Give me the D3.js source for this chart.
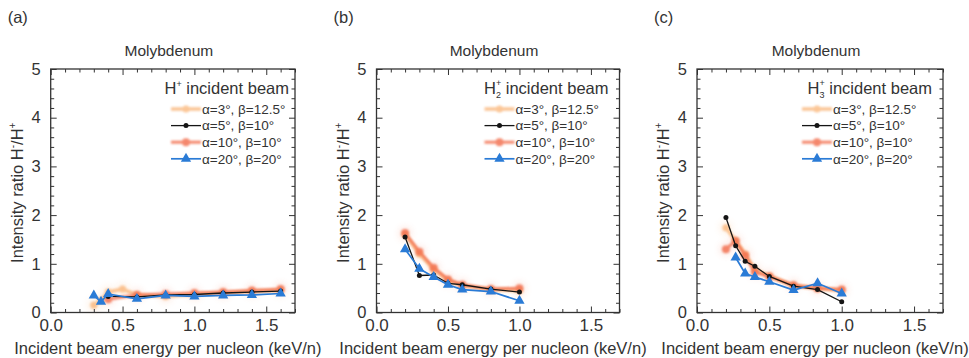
<!DOCTYPE html>
<html>
<head>
<meta charset="utf-8">
<script src="https://cdn.jsdelivr.net/npm/d3@7"></script>
<style>
  html, body { margin: 0; padding: 0; background: #ffffff; }
  svg { display: block; }
  text { font-family: "Liberation Sans", Arial, Helvetica, sans-serif; fill: #333; }
</style>
</head>
<body>
<svg id="chart" width="969" height="358"></svg>
<script>
// ---------------- DATA ----------------
const panelLabels = ["(a)", "(b)", "(c)"];
const panelTitle = "Molybdenum";
const beamSubscripts = ["", "2", "3"];
const seriesLabels = ["α=3°, β=12.5°", "α=5°, β=10°", "α=10°, β=10°", "α=20°, β=20°"];
const xTickValues = [0.0, 0.5, 1.0, 1.5];
const yTickValues = [0, 1, 2, 3, 4, 5];
const xAxisTitle = "Incident beam energy per nucleon (keV/n)";

// Panel (a): H+ incident beam
const aX1 = [0.3, 0.35, 0.4, 0.5, 0.6, 0.8, 1.0, 1.2, 1.4, 1.6];
const aY1 = [0.15, 0.25, 0.42, 0.48, 0.36, 0.33, 0.37, 0.40, 0.43, 0.45];
const aX2 = [0.4, 0.6, 0.8, 1.0, 1.2, 1.4, 1.6];
const aY2 = [0.33, 0.32, 0.36, 0.37, 0.40, 0.42, 0.44];
const aX3 = [0.4, 0.6, 0.8, 1.0, 1.2, 1.4, 1.6];
const aY3 = [0.27, 0.36, 0.38, 0.40, 0.42, 0.45, 0.48];
const aX4 = [0.3, 0.35, 0.4, 0.6, 0.8, 1.0, 1.2, 1.4, 1.6];
const aY4 = [0.35, 0.22, 0.38, 0.28, 0.35, 0.33, 0.35, 0.36, 0.39];

// Panel (b): H2+ incident beam
const bX = [0.2, 0.3, 0.4, 0.5, 0.6, 0.8, 1.0];
const bY1 = [1.60, 1.20, 0.88, 0.66, 0.55, 0.47, 0.45];
const bY2 = [1.55, 0.76, 0.77, 0.60, 0.57, 0.48, 0.42];
const bY3 = [1.63, 1.25, 0.92, 0.68, 0.57, 0.48, 0.50];
const bY4 = [1.30, 0.90, 0.73, 0.57, 0.47, 0.43, 0.24];

// Panel (c): H3+ incident beam
const cX = [0.2, 0.267, 0.333, 0.4, 0.5, 0.667, 0.833, 1.0];
const cY1 = [1.74, 1.47, 1.20, 0.88, 0.75, 0.55, 0.50, 0.45];
const cY2 = [1.95, 1.37, 1.05, 0.95, 0.74, 0.54, 0.47, 0.22];
const cY3 = [1.30, 1.47, 1.17, 0.83, 0.74, 0.56, 0.50, 0.47];
const cX4 = [0.267, 0.333, 0.4, 0.5, 0.667, 0.833, 1.0];
const cY4 = [1.13, 0.80, 0.73, 0.63, 0.46, 0.60, 0.39];

// ---------------- STYLE / LAYOUT ----------------
const seriesStyle = [
  { color: "#f9a860", width: 3.6, opacity: 0.65, marker: "circle", r: 3.6, blur: true },
  { color: "#151515", width: 1.3, opacity: 1.0, marker: "circle", r: 2.5, blur: false },
  { color: "#f26a48", width: 3.0, opacity: 0.8, marker: "circle", r: 4.0, blur: true },
  { color: "#2a7bd6", width: 1.7, opacity: 1.0, marker: "triangle", r: 4.2, blur: false }
];
const drawOrder = [0, 2, 1, 3];

const panels = [
  { left: 50.7, right: 295, legendRight: 6, legendText: 93,
    data: [[aX1, aY1], [aX2, aY2], [aX3, aY3], [aX4, aY4]] },
  { left: 376.5, right: 619.5, legendRight: 11, legendText: 104,
    data: [[bX, bY1], [bX, bY2], [bX, bY3], [bX, bY4]] },
  { left: 697, right: 943, legendRight: 11, legendText: 110,
    data: [[cX, cY1], [cX, cY2], [cX, cY3], [cX4, cY4]] }
];
const plotTop = 69, plotBottom = 312.5;
const axisColor = "#333";

const svg = d3.select("#chart");
const defs = svg.append("defs");
defs.append("filter").attr("id", "soft").attr("x", "-20%").attr("y", "-20%")
  .attr("width", "140%").attr("height", "140%")
  .append("feGaussianBlur").attr("stdDeviation", 0.8);
defs.append("filter").attr("id", "halo").attr("x", "-100%").attr("y", "-100%")
  .attr("width", "300%").attr("height", "300%")
  .append("feGaussianBlur").attr("stdDeviation", 3);

function range(a, b, step) {
  const out = [];
  for (let v = a; v <= b + 1e-9; v += step) out.push(Math.round(v * 100) / 100);
  return out;
}
const xMinor = range(0, 1.7, 0.1).filter(v => !xTickValues.some(t => Math.abs(t - v) < 1e-6));
const yMinor = range(0, 5, 0.2).filter(v => !yTickValues.some(t => Math.abs(t - v) < 1e-6));

function styleAxis(g) {
  g.select(".domain").remove();
  g.selectAll(".tick line").attr("stroke", axisColor).attr("stroke-width", 1);
}

function drawMarker(sel, st, cx, cy) {
  if (st.marker === "triangle") {
    sel.append("path").attr("d", d3.symbol(d3.symbolTriangle, st.r * st.r * 2.6)())
      .attr("transform", `translate(${cx},${cy})`).attr("fill", st.color);
  } else {
    sel.append("circle").attr("cx", cx).attr("cy", cy).attr("r", st.r).attr("fill", st.color);
  }
}

panels.forEach((p, pi) => {
  const x = d3.scaleLinear().domain([0, 1.7]).range([p.left, p.right]);
  const y = d3.scaleLinear().domain([0, 5]).range([plotBottom, plotTop]);
  const g = svg.append("g");
  const cxMid = (p.left + p.right) / 2;

  // panel label
  g.append("text").attr("x", p.left - 43).attr("y", 23).attr("font-size", 16.5).text(panelLabels[pi]);
  // title
  g.append("text").attr("x", cxMid - 4).attr("y", 56).attr("text-anchor", "middle")
    .attr("font-size", 15.5).text(panelTitle);

  // halos (faint glow around soft series points)
  const halo = g.append("g").attr("filter", "url(#halo)").attr("opacity", 0.12);
  [0, 2].forEach(si => {
    const [xs, ys] = p.data[si];
    xs.forEach((xv, i) => {
      halo.append("circle").attr("cx", x(xv)).attr("cy", y(ys[i])).attr("r", 7)
        .attr("fill", seriesStyle[si].color);
    });
  });

  // series
  const line = d3.line().x(d => x(d[0])).y(d => y(d[1]));
  drawOrder.forEach(si => {
    const st = seriesStyle[si];
    const [xs, ys] = p.data[si];
    const pts = xs.map((xv, i) => [xv, ys[i]]);
    const sg = g.append("g").attr("opacity", st.opacity);
    if (st.blur) sg.attr("filter", "url(#soft)");
    sg.append("path").attr("d", line(pts)).attr("fill", "none")
      .attr("stroke", st.color).attr("stroke-width", st.width).attr("stroke-linejoin", "round");
    pts.forEach(d => drawMarker(sg, st, x(d[0]), y(d[1])));
  });

  // axes (ticks inward, mirrored)
  const majLen = 6, minLen = 3.5;
  g.append("g").attr("transform", `translate(0,${plotBottom})`)
    .call(d3.axisBottom(x).tickValues(xMinor).tickSize(-minLen).tickFormat("")).call(styleAxis);
  g.append("g").attr("transform", `translate(0,${plotBottom})`)
    .call(d3.axisBottom(x).tickValues(xTickValues).tickSize(-majLen).tickPadding(6)
      .tickFormat(d3.format(".1f")))
    .call(styleAxis)
    .call(a => a.selectAll(".tick text").attr("font-size", 17).attr("fill", "#333")
      .attr("font-family", "Liberation Sans, Arial, sans-serif"));
  g.append("g").attr("transform", `translate(0,${plotTop})`)
    .call(d3.axisTop(x).tickValues(xMinor).tickSize(-minLen).tickFormat("")).call(styleAxis);
  g.append("g").attr("transform", `translate(0,${plotTop})`)
    .call(d3.axisTop(x).tickValues(xTickValues).tickSize(-majLen).tickFormat("")).call(styleAxis);
  g.append("g").attr("transform", `translate(${p.left},0)`)
    .call(d3.axisLeft(y).tickValues(yMinor).tickSize(-minLen).tickFormat("")).call(styleAxis);
  g.append("g").attr("transform", `translate(${p.left},0)`)
    .call(d3.axisLeft(y).tickValues(yTickValues).tickSize(-majLen).tickPadding(10).tickFormat(d3.format("d")))
    .call(styleAxis)
    .call(a => a.selectAll(".tick text").attr("font-size", 16.5).attr("fill", "#333")
      .attr("font-family", "Liberation Sans, Arial, sans-serif"));
  g.append("g").attr("transform", `translate(${p.right},0)`)
    .call(d3.axisRight(y).tickValues(yMinor).tickSize(-minLen).tickFormat("")).call(styleAxis);
  g.append("g").attr("transform", `translate(${p.right},0)`)
    .call(d3.axisRight(y).tickValues(yTickValues).tickSize(-majLen).tickFormat("")).call(styleAxis);

  // frame
  g.append("rect").attr("x", p.left).attr("y", plotTop).attr("width", p.right - p.left)
    .attr("height", plotBottom - plotTop).attr("fill", "none").attr("stroke", axisColor).attr("stroke-width", 1.3);

  // axis titles
  g.append("text").attr("x", cxMid - 5).attr("y", 354).attr("text-anchor", "middle")
    .attr("font-size", 16.5).text(xAxisTitle);
  const yt = g.append("text").attr("transform", `translate(${p.left - 28},${(plotTop + plotBottom) / 2 + 2}) rotate(-90)`)
    .attr("text-anchor", "middle").attr("font-size", 16.5);
  yt.append("tspan").text("Intensity ratio H");
  yt.append("tspan").attr("dy", -7).attr("font-size", 10).text("-");
  yt.append("tspan").attr("dy", 7).text("/H");
  yt.append("tspan").attr("dy", -7).attr("font-size", 10).text("+");

  // legend header
  const hx = p.right - p.legendRight, hy = plotTop + 25;
  const ht = g.append("text").attr("x", hx).attr("y", hy).attr("text-anchor", "end").attr("font-size", 16.5);
  ht.append("tspan").text("H");
  if (beamSubscripts[pi]) {
    ht.append("tspan").attr("dy", 4).attr("font-size", 9).text(beamSubscripts[pi]);
    ht.append("tspan").attr("dx", -5).attr("dy", -12).attr("font-size", 9).text("+");
    ht.append("tspan").attr("dy", 8).text(" incident beam");
  } else {
    ht.append("tspan").attr("dy", -7).attr("font-size", 9).text("+");
    ht.append("tspan").attr("dy", 7).text(" incident beam");
  }

  // legend entries
  const tx = p.right - p.legendText;
  seriesLabels.forEach((lab, si) => {
    const st = seriesStyle[si];
    const ry = plotTop + 40 + si * 16.6;
    const lg = g.append("g").attr("opacity", st.opacity);
    if (st.blur) lg.attr("filter", "url(#soft)");
    lg.append("line").attr("x1", tx - 31).attr("x2", tx - 1).attr("y1", ry).attr("y2", ry)
      .attr("stroke", st.color).attr("stroke-width", st.width);
    drawMarker(lg, st, tx - 16, ry);
    g.append("text").attr("x", tx).attr("y", ry + 4.8).attr("font-size", 13.5).text(lab);
  });
});
</script>
</body>
</html>
